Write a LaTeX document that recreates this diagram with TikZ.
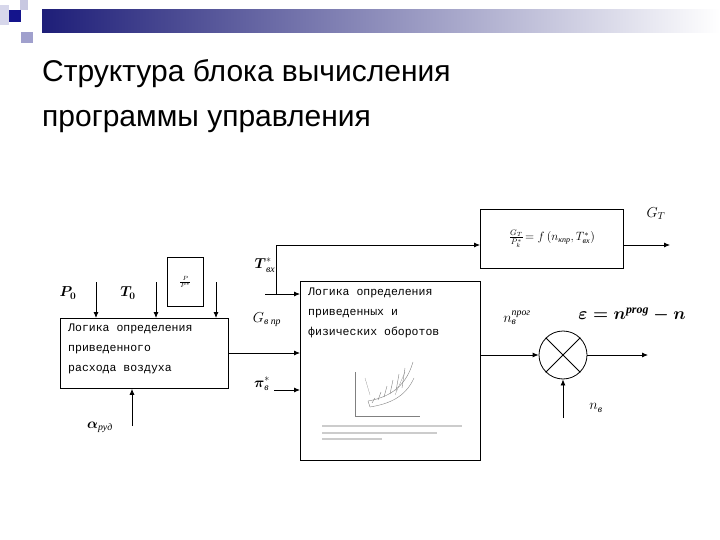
\documentclass[tikz,border=0pt]{standalone}
\usepackage{amsmath}
\usepackage{fontspec}
\setmainfont{Liberation Serif}
\newfontfamily\arialf{Liberation Sans}
\newfontfamily\courf{Liberation Mono}
\usetikzlibrary{arrows.meta}
\definecolor{hdark}{RGB}{30,30,120}
\definecolor{hsq1}{RGB}{200,200,225}
\definecolor{hsq2}{RGB}{160,160,205}
\definecolor{hsq3}{RGB}{215,215,235}
\definecolor{hsq4}{RGB}{20,20,140}
\begin{document}
\begin{tikzpicture}[x=1pt,y=-1pt,
  blk/.style={draw,thick,fill=white},
  arr/.style={thick,-{Latex[length=6pt,width=5pt]}},
  lbl/.style={inner sep=1pt,font=\fontsize{14}{16}\selectfont},
  rtxt/.style={font=\courf\fontsize{11.5}{20}\selectfont,align=left,inner sep=0pt}]
\useasboundingbox (0,0) rectangle (720,540);
\fill[white] (0,0) rectangle (720,540);
% header decoration
\shade[left color=hdark, right color=white] (42,10) rectangle (720,33);
\fill[hsq1] (20,0) rectangle (28,10);
\fill[hsq2] (21,32) rectangle (33,43);
\fill[hsq3] (0,5) rectangle (9,25);
\fill[hsq4] (9,10) rectangle (21,22);
\node[anchor=base west,inner sep=0pt,font=\arialf\fontsize{30}{36}\selectfont] (t1) at (42,82) {Структура блока вычисления};
\node[anchor=base west,inner sep=0pt,font=\arialf\fontsize{30}{36}\selectfont] (t2) at (42,127) {программы управления};
% left block
\node[blk,minimum width=168,minimum height=70,anchor=north west] (lb) at (60,318) {};
\node[rtxt,anchor=north west] (lbt) at (68,324) {Логика определения\\приведенного\\расхода воздуха};
\node[lbl] (p0) at (68,293) {$\boldsymbol{P_0}$};
\node[lbl] (t0) at (128,293) {$\boldsymbol{T_0}$};
\node[blk,minimum width=36,minimum height=49,anchor=north west] (pp) at (167,257) {};
\node[font=\fontsize{9}{10}\selectfont] (ppt) at (pp.center) {$\frac{P}{P^{*}}$};
\coordinate (a1) at (96,282); \coordinate (a2) at (156,282); \coordinate (a3) at (216,282);
\draw[arr] (a1) -- (a1 |- lb.north);
\draw[arr] (a2) -- (a2 |- lb.north);
\draw[arr] (a3) -- (a3 |- lb.north);
\node[lbl] (al) at (100,427) {$\boldsymbol{\alpha}_{\textit{руд}}$};
\coordinate (a4) at (132,426);
\draw[arr] (a4) -- (a4 |- lb.south);
% middle block
\node[blk,minimum width=180,minimum height=179,anchor=north west] (mb) at (300,281) {};
\node[rtxt,anchor=north west] (mbt) at (308,288) {Логика определения\\приведенных и\\физических оборотов};
% small chart
\begin{scope}[gray,line width=0.4pt]
\draw (355,372) -- (355,416) -- (420,416);
\draw (368,401) .. controls (385,398) and (405,390) .. (413,362);
\draw (370,407) .. controls (388,404) and (405,398) .. (414,378);
\draw (368,401) -- (370,407);
\foreach \k in {0,...,5} \draw (372+6*\k,403-3*\k) -- (375+6*\k,398-6*\k);
\draw[very thin] (365,378) -- (370,395);
\draw[very thin] (395,395) -- (405,372);
\end{scope}
\foreach \yy/\w in {425/140,432/115,438/60}
  \fill[gray!40] (322,\yy) rectangle ++(\w,1.5);
\draw[arr] (lb.east |- 0,353) -- (mb.west |- 0,353);
\node[lbl] (tv) at (265,265) {$\boldsymbol{T}^{*}_{\textit{вх}}$};
\node[lbl] (gv) at (267,320) {$G_{\textit{в пр}}$};
\node[lbl] (pv) at (262,384) {$\boldsymbol{\pi}^{*}_{\textit{в}}$};
\coordinate (tvs) at (265,294);
\draw[arr] (tvs) -- (mb.west |- tvs);
\coordinate (pvs) at (274,390);
\draw[arr] (pvs) -- (mb.west |- pvs);
% formula block
\node[blk,minimum width=143,minimum height=59,anchor=north west] (fb) at (480,209) {};
\node[font=\fontsize{12}{14}\selectfont] (fbt) at (fb.center) {$\frac{G_T}{P_k^{*}}\!=f\,(n_{\textit{кпр}},T^{*}_{\textit{вх}})$};
\coordinate (br) at (276,294);
\draw[thick] (br) |- (400,245);
\draw[arr] (400,245) -- (fb.west |- 0,245);
\coordinate (gto) at (670,245);
\draw[arr] (fb.east |- gto) -- (gto);
\node[lbl] (gt) at (656,214) {$G_T$};
% summing junction
\node[draw,thick,circle,minimum size=48,inner sep=0pt] (sj) at (563,355) {};
\draw[thick] (sj.north west) -- (sj.south east) (sj.north east) -- (sj.south west);
\draw[arr] (mb.east |- sj) -- (sj.west);
\coordinate (so) at (648,355);
\draw[arr] (sj.east) -- (so);
\coordinate (nb) at (563,418);
\draw[arr] (nb) -- (sj.south);
\node[lbl] (nv) at (596,408) {$n_{\textit{в}}$};
\node[lbl] (np) at (517,318) {$n_{\textit{в}}^{\textit{прог}}$};
\node[lbl,font=\fontsize{17}{19}\selectfont] (eps) at (632,315) {$\boldsymbol{\varepsilon = n^{\mathit{prog}} - n}$};
\end{tikzpicture}
\end{document}
